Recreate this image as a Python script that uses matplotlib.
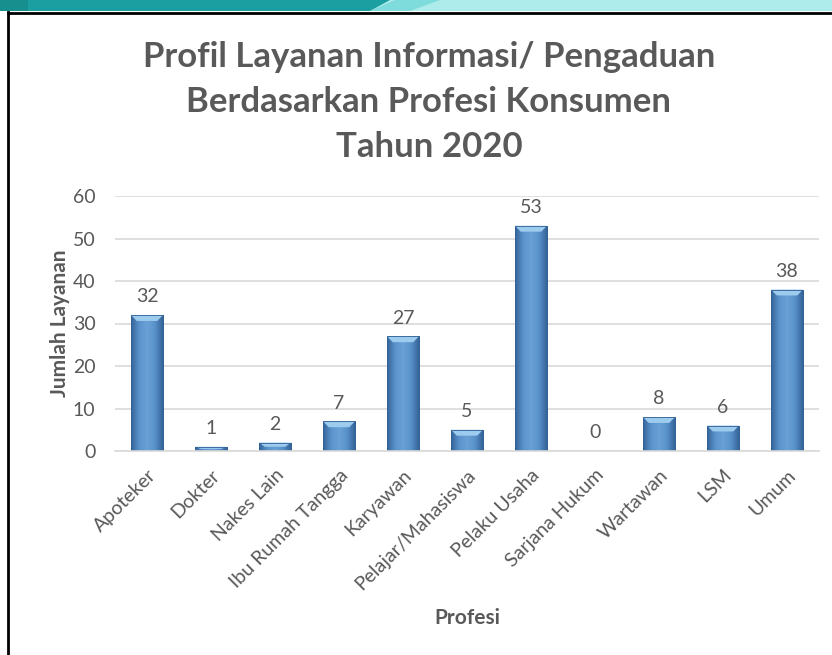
import numpy as np
import matplotlib.pyplot as plt
from matplotlib.patches import Rectangle, Polygon
from matplotlib.lines import Line2D
from matplotlib.colors import LinearSegmentedColormap

plt.rcParams['font.family'] = ['Lato', 'DejaVu Sans']

# data
profesi = ['Apoteker', 'Dokter', 'Nakes Lain', 'Ibu Rumah Tangga', 'Karyawan',
           'Pelajar/Mahasiswa', 'Pelaku Usaha', 'Sarjana Hukum', 'Wartawan',
           'LSM', 'Umum']
jumlah = [32, 1, 2, 7, 27, 5, 53, 0, 8, 6, 38]
judul = ['Profil Layanan Informasi/ Pengaduan', 'Berdasarkan Profesi Konsumen', 'Tahun 2020']

grey = '#595959'
W, H = 832, 655
fig = plt.figure(figsize=(W / 100, H / 100), dpi=100)

# slide decoration: top band + frame
fig.add_artist(Rectangle((0, 1 - 11 / H), 1, 11 / H, transform=fig.transFigure,
                         color='#aeeceb', lw=0))
fig.add_artist(Polygon([(0, 1), (390 / W, 1), (370 / W, 1 - 11 / H), (0, 1 - 11 / H)],
                       closed=True, transform=fig.transFigure, color='#1b9fa0', lw=0))
fig.add_artist(Rectangle((0, 1 - 11 / H), 28 / W, 11 / H, transform=fig.transFigure,
                         color='#178f8f', lw=0))
fig.add_artist(Polygon([(370 / W, 1 - 11 / H), (395 / W, 1), (440 / W, 1), (410 / W, 1 - 11 / H)],
                       closed=True, transform=fig.transFigure, color='#7fdcdc', lw=0))
fig.add_artist(Line2D([8 / W, 8 / W], [0, 1 - 12 / H], transform=fig.transFigure,
                      color='black', lw=2))
fig.add_artist(Line2D([8 / W, 1], [1 - 12.5 / H, 1 - 12.5 / H], transform=fig.transFigure,
                      color='black', lw=2))

ax = fig.add_axes([115 / W, 1 - 451 / H, (819 - 115) / W, (451 - 196) / H])
x = np.arange(len(profesi))
bw = 0.5

cmap = LinearSegmentedColormap.from_list('bar', ['#35659a', '#5a92cb', '#6aa1d6', '#5a92cb', '#35659a'])
grad = np.linspace(0, 1, 64).reshape(1, -1)

bars = ax.bar(x, jumlah, width=bw, color='#5a92cb', edgecolor='#2f5f93', lw=0.6, zorder=2)
for b, v in zip(bars, jumlah):
    if v <= 0:
        continue
    x0 = b.get_x()
    im = ax.imshow(grad, cmap=cmap, aspect='auto', extent=[x0, x0 + bw, 0, v],
                   zorder=2.1, interpolation='bicubic')
    im.set_clip_path(b)
    bh = min(1.4, v * 0.5)
    inset = 0.09
    ax.add_patch(Polygon([(x0, v), (x0 + bw, v), (x0 + bw - inset, v - bh), (x0 + inset, v - bh)],
                         closed=True, color='#9dcbee', lw=0, zorder=2.2))
    ax.add_patch(Rectangle((x0, 0), bw, v, fill=False, ec='#2f5f93', lw=0.6, zorder=2.3))

for xi, v in zip(x, jumlah):
    ax.annotate(str(v), (xi, v), xytext=(0, 7), textcoords='offset points',
                ha='center', va='bottom', fontsize=14, color=grey)

ax.set_xlim(-0.5, len(profesi) - 0.5)
ax.set_ylim(0, 60)
ax.set_yticks(range(0, 61, 10))
ax.grid(axis='y', color='#d9d9d9', lw=1.2, zorder=0)
ax.set_axisbelow(True)
for s in ['top', 'right', 'left']:
    ax.spines[s].set_visible(False)
ax.spines['bottom'].set_color('#d9d9d9')
ax.spines['bottom'].set_linewidth(1.2)
ax.tick_params(axis='both', length=0, colors=grey, labelsize=14)
ax.tick_params(axis='y', pad=14)
ax.set_xticks(x)
ax.set_xticklabels(profesi, rotation=45, ha='right', rotation_mode='anchor')
ax.tick_params(axis='x', pad=11)

ax.set_ylabel('Jumlah Layanan', fontsize=15, fontweight='bold', color=grey)
ax.yaxis.set_label_coords((60 - 115) / (819 - 115), 0.5)
ax.set_xlabel('Profesi', fontsize=15, fontweight='bold', color=grey)
ax.xaxis.set_label_coords(0.5, (451 - 618) / (451 - 196))
ax.xaxis.label.set_va('center')
ax.yaxis.label.set_va('center')

for yy, line in zip([57, 102, 147], judul):
    fig.text(429 / W, 1 - yy / H, line, ha='center', va='center',
             fontsize=25, fontweight='bold', color=grey)

fig.savefig('out.png', dpi=100)
